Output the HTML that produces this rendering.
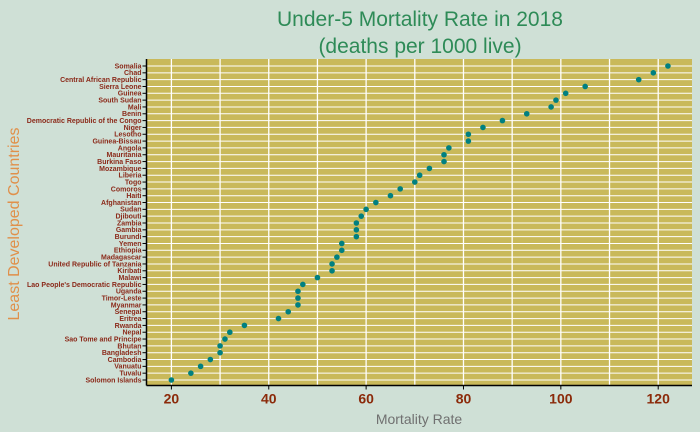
<!DOCTYPE html>
<html><head><meta charset="utf-8">
<style>
html,body{margin:0;padding:0;background:#cfe0d6;}
svg{display:block;font-family:"Liberation Sans",Arial,sans-serif;}
</style></head>
<body>
<svg id="chart" width="700" height="432" viewBox="0 0 700 432" xmlns="http://www.w3.org/2000/svg">
<rect x="0" y="0" width="700" height="432" fill="#cfe0d6"/>
<text x="420" y="26" text-anchor="middle" font-size="21" fill="#2e8b57">Under-5 Mortality Rate in 2018</text>
<text x="420" y="53" text-anchor="middle" font-size="21" fill="#2e8b57">(deaths per 1000 live)</text>
<text transform="translate(19,224) rotate(-90)" text-anchor="middle" font-size="16" fill="#e0904a">Least Developed Countries</text>
<text x="419" y="424" text-anchor="middle" font-size="14" fill="#707070">Mortality Rate</text>
<g id="plot"></g>
</svg>
<script>
const countries = ["Somalia","Chad","Central African Republic","Sierra Leone","Guinea","South Sudan","Mali","Benin","Democratic Republic of the Congo","Niger","Lesotho","Guinea-Bissau","Angola","Mauritania","Burkina Faso","Mozambique","Liberia","Togo","Comoros","Haiti","Afghanistan","Sudan","Djibouti","Zambia","Gambia","Burundi","Yemen","Ethiopia","Madagascar","United Republic of Tanzania","Kiribati","Malawi","Lao People's Democratic Republic","Uganda","Timor-Leste","Myanmar","Senegal","Eritrea","Rwanda","Nepal","Sao Tome and Principe","Bhutan","Bangladesh","Cambodia","Vanuatu","Tuvalu","Solomon Islands"];
const rates = [122,119,116,105,101,99,98,93,88,84,81,81,77,76,76,73,71,70,67,65,62,60,59,58,58,58,55,55,54,53,53,50,47,46,46,46,44,42,35,32,31,30,30,28,26,24,20];
const xTicks = [20,40,60,80,100,120];
const xGrid = [20,30,40,50,60,70,80,90,100,110,120];

const NS="http://www.w3.org/2000/svg";
const g=document.getElementById('plot');
const L=146.5,R=692,T=59,B=385.5;
const x=v=>171.4+(v-20)*4.868;
const y=i=>66+i*(380-66)/(countries.length-1);
function mk(t,a){const e=document.createElementNS(NS,t);for(const k in a)e.setAttribute(k,a[k]);g.appendChild(e);return e;}
const bg=mk('rect',{x:L,y:T,width:R-L,height:B-T,fill:'#c9b95a'});


xGrid.forEach(v=>{const l=mk('line',{x1:x(v),x2:x(v),y1:T,y2:B,stroke:'#fff','stroke-width':1.3});

});
countries.forEach((c,i)=>{
const l=mk('line',{x1:L,x2:R,y1:y(i),y2:y(i),stroke:'#fff','stroke-width':1});


const tk=mk('line',{x1:L-4,x2:L,y1:y(i),y2:y(i),stroke:'#000','stroke-width':1});


const t=mk('text',{x:L-5,y:y(i)+2.4,'text-anchor':'end','font-size':7,'font-weight':'bold',fill:'#8b2a1a'});
t.textContent=c;


});
xTicks.forEach(v=>{
const tk=mk('line',{x1:x(v),x2:x(v),y1:B,y2:B+4,stroke:'#000','stroke-width':1});


const t=mk('text',{x:x(v),y:B+18,'text-anchor':'middle','font-size':14,'font-weight':'bold',fill:'#8b2a0a'});
t.textContent=v;


});
const ax=mk('line',{x1:L,x2:L,y1:T,y2:B,stroke:'#000','stroke-width':1.5});


const bx=mk('line',{x1:L,x2:R,y1:B,y2:B,stroke:'#000','stroke-width':1.5});


rates.forEach((v,i)=>{
const d=mk('circle',{cx:x(v),cy:y(i),r:2.8,fill:'#008080'});


});
</script>
</body></html>
